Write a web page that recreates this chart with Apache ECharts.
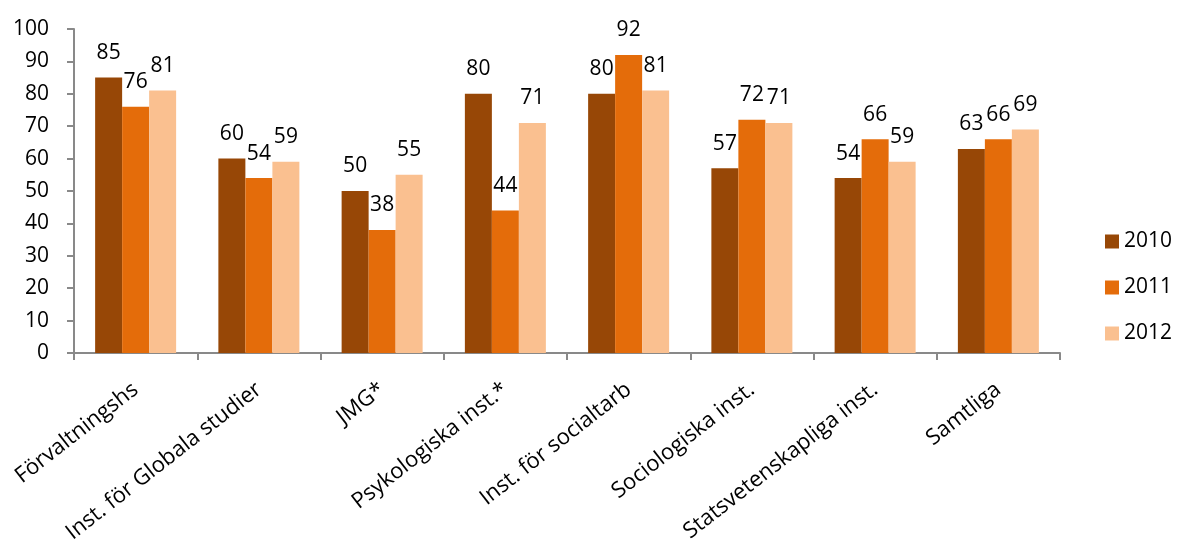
<!DOCTYPE html>
<html>
<head>
<meta charset="utf-8">
<script src="https://cdn.jsdelivr.net/npm/echarts@6/dist/echarts.min.js"></script>
<style>
html,body{margin:0;padding:0;background:#fff;}
#chart{width:1181px;height:549px;}
</style>
</head>
<body>
<div id="chart"></div>
<script>
var categories = ["Förvaltningshs", "Inst. för Globala studier", "JMG*", "Psykologiska inst.*", "Inst. för socialtarb", "Sociologiska inst.", "Statsvetenskapliga inst.", "Samtliga"];
var seriesNames = ["2010", "2011", "2012"];
var values2010 = [85, 60, 50, 80, 80, 57, 54, 63];
var values2011 = [76, 54, 38, 44, 92, 72, 66, 66];
var values2012 = [81, 59, 55, 71, 81, 71, 59, 69];
var colors = ["#974706", "#E46C0A", "#FAC090"];

var FONT = "'Open Sans', 'Noto Sans', sans-serif";
var chart = echarts.init(document.getElementById('chart'));
var allValues = [values2010, values2011, values2012];
var series = seriesNames.map(function (name, i) {
  return {
    name: name,
    type: 'bar',
    data: allValues[i],
    barWidth: 27,
    barGap: '0%',
    itemStyle: { color: colors[i] },
    label: {
      show: true,
      position: 'top',
      distance: 14,
      color: '#000',
      fontSize: 21,
      fontFamily: FONT
    }
  };
});

chart.setOption({
  animation: false,
  backgroundColor: '#fff',
  grid: { left: 74, right: 121, top: 29, bottom: 196, containLabel: false },
  legend: {
    orient: 'vertical',
    left: 1100,
    top: 226,
    itemWidth: 14,
    itemHeight: 14,
    itemGap: 25,
    icon: 'rect',
    textStyle: { fontSize: 21, fontFamily: FONT, color: '#000' },
    data: seriesNames
  },
  xAxis: {
    type: 'category',
    data: categories,
    axisLine: { lineStyle: { color: '#898989', width: 2 } },
    axisTick: { show: true, length: 7, lineStyle: { color: '#898989', width: 2 } },
    axisLabel: {
      rotate: 38,
      interval: 0,
      margin: 34,
      color: '#000',
      fontSize: 22,
      fontFamily: FONT
    }
  },
  yAxis: {
    type: 'value',
    min: 0,
    max: 100,
    interval: 10,
    splitLine: { show: false },
    axisLine: { show: true, lineStyle: { color: '#898989', width: 2 } },
    axisTick: { show: true, length: 7, lineStyle: { color: '#898989', width: 2 } },
    axisLabel: { margin: 25, color: '#000', fontSize: 21, fontFamily: FONT }
  },
  series: series
});
</script>
</body>
</html>
